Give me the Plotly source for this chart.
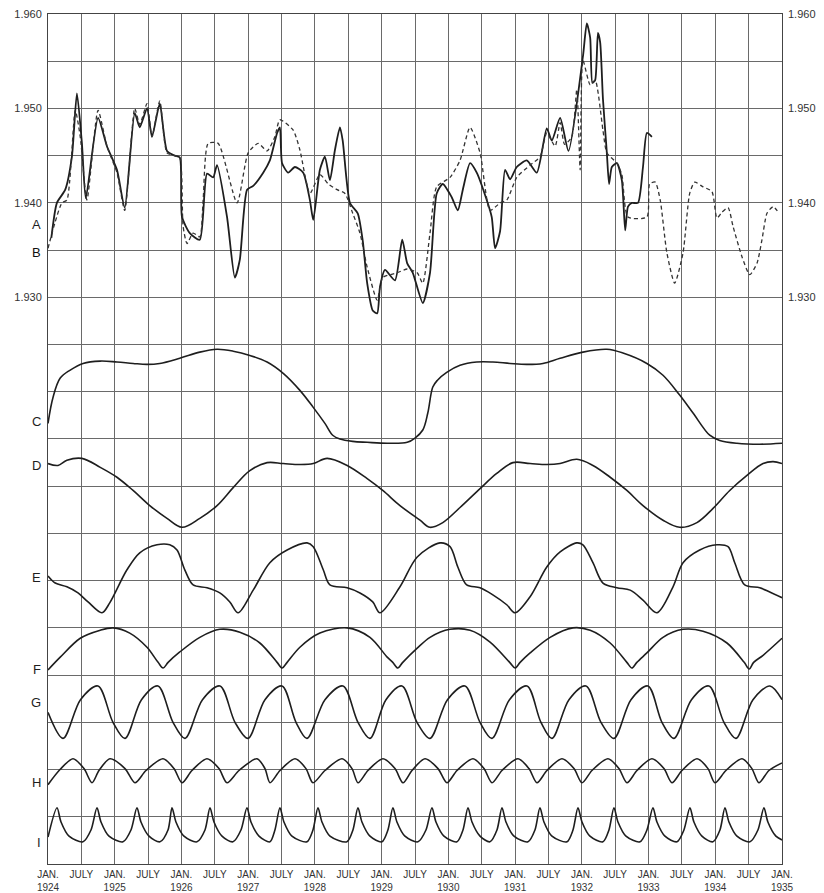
import plotly.graph_objects as go

# ---------------------------------------------------------------------------
# Data.  Time is counted in months from January 1924.
# ---------------------------------------------------------------------------

# Series A (full line) and B (broken line), plotted on the 1.930-1.960 scale
a_month = [0.6, 1.6, 3.1, 4.3, 5.2, 6.1, 6.8, 9.0, 10.6, 12.4, 13.8, 15.6, 16.5, 17.8,
           18.7, 20.1, 21.4, 22.8, 23.7, 24.1, 25.5, 27.3, 28.6, 29.7, 30.4, 32.2, 33.6,
           34.5, 35.8, 36.9, 38.7, 39.9, 41.2, 41.7, 42.1, 43.2, 44.4, 45.9, 47.1, 47.7,
           48.9, 49.8, 50.7, 51.6, 52.5, 53.0, 54.3, 55.7, 56.6, 57.4, 58.4, 59.2, 59.7,
           60.6, 62.4, 63.7, 64.6, 65.6, 67.4, 68.7, 69.9, 71.0, 72.6, 73.7, 74.6, 75.9,
           77.1, 78.9, 79.8, 80.4, 81.3, 82.2, 83.1, 84.3, 86.1, 87.9, 89.7, 90.6, 92.1,
           93.6, 96.2, 96.9, 97.5, 97.9, 98.4, 98.9, 99.3, 99.8, 100.5, 100.9, 101.4,
           102.3, 103.2, 103.8, 104.3, 105.0, 106.1, 107.0, 107.7, 108.6]
a_value = [1.9363, 1.9400, 1.9414, 1.9449, 1.9516, 1.9463, 1.9405, 1.9490, 1.9460, 1.9435,
           1.9395, 1.9495, 1.9480, 1.9500, 1.9470, 1.9505, 1.9455, 1.9450, 1.9448, 1.9385,
           1.9368, 1.9361, 1.9431, 1.9427, 1.9440, 1.9385, 1.9321, 1.9340, 1.9414, 1.9418,
           1.9432, 1.9445, 1.9474, 1.9480, 1.9442, 1.9432, 1.9438, 1.9432, 1.9403, 1.9382,
           1.9435, 1.9449, 1.9424, 1.9456, 1.9480, 1.9466, 1.9400, 1.9389, 1.9360, 1.9315,
           1.9286, 1.9283, 1.9311, 1.9329, 1.9318, 1.9361, 1.9336, 1.9326, 1.9294, 1.9326,
           1.9410, 1.9420, 1.9406, 1.9392, 1.9414, 1.9442, 1.9432, 1.9403, 1.9385, 1.9352,
           1.9370, 1.9435, 1.9425, 1.9438, 1.9445, 1.9432, 1.9479, 1.9466, 1.9490, 1.9455,
           1.9555, 1.9590, 1.9575, 1.9527, 1.9530, 1.9580, 1.9570, 1.9510, 1.9453, 1.9420,
           1.9438, 1.9442, 1.9424, 1.9371, 1.9396, 1.9400, 1.9400, 1.9438, 1.9474, 1.9470]

b_month = [0.0, 1.3, 2.5, 3.4, 4.9, 5.8, 7.0, 9.0, 10.6, 12.4, 13.8, 15.6, 16.5, 17.8,
           18.7, 20.1, 21.4, 22.8, 23.7, 24.3, 25.0, 26.1, 27.3, 27.9, 28.8, 30.6, 34.0,
           36.0, 37.8, 39.4, 40.8, 41.7, 44.1, 45.3, 47.1, 48.9, 50.4, 52.0, 53.4, 54.8,
           56.1, 57.4, 59.2, 60.2, 62.8, 64.6, 66.4, 67.4, 68.7, 69.9, 72.3, 74.1, 75.9,
           77.7, 79.5, 81.3, 82.5, 84.3, 86.7, 88.5, 89.7, 91.2, 92.1, 92.9, 94.2, 95.1,
           95.7, 96.2, 97.5, 98.4, 99.8, 100.5, 102.3, 103.2, 104.3, 107.7, 108.2, 109.2,
           110.1, 111.3, 112.7, 114.2, 115.4, 116.3, 117.8, 119.4, 120.3, 121.2, 122.3,
           123.2, 124.8, 126.2, 127.5, 128.4, 129.3, 130.4, 131.5]
b_value = [1.9352, 1.9380, 1.9400, 1.9403, 1.9498, 1.9470, 1.9403, 1.9498, 1.9460, 1.9432,
           1.9392, 1.9500, 1.9483, 1.9505, 1.9470, 1.9508, 1.9453, 1.9450, 1.9448, 1.9375,
           1.9357, 1.9368, 1.9364, 1.9403, 1.9463, 1.9463, 1.9400, 1.9453, 1.9463, 1.9455,
           1.9470, 1.9488, 1.9477, 1.9456, 1.9410, 1.9430, 1.9420, 1.9414, 1.9410, 1.9389,
           1.9368, 1.9332, 1.9297, 1.9321, 1.9326, 1.9330, 1.9326, 1.9315, 1.9368, 1.9417,
           1.9427, 1.9445, 1.9480, 1.9453, 1.9392, 1.9400, 1.9403, 1.9427, 1.9440, 1.9449,
           1.9474, 1.9460, 1.9485, 1.9462, 1.9470, 1.9520, 1.9435, 1.9551, 1.9525, 1.9530,
           1.9477, 1.9453, 1.9442, 1.9430, 1.9385, 1.9385, 1.9420, 1.9422, 1.9403, 1.9347,
           1.9315, 1.9347, 1.9410, 1.9422, 1.9417, 1.9412, 1.9384, 1.9390, 1.9395, 1.9375,
           1.9343, 1.9324, 1.9336, 1.9361, 1.9389, 1.9396, 1.9389]

# Component curves C-I, values in grid divisions above the floor gridline of each curve
c_month = [0.0, 0.9, 2.2, 4.0, 6.3, 9.4, 12.4, 15.3, 17.8, 20.1, 23.7, 27.3, 30.4, 33.3,
           36.3, 39.4, 42.3, 45.3, 47.7, 49.8, 51.2, 52.5, 54.8, 57.4, 61.0, 64.6, 66.0,
           67.4, 68.3, 69.2, 70.0, 71.7, 74.1, 77.1, 80.0, 83.1, 86.1, 89.0, 92.1, 96.2,
           100.5, 103.4, 107.7, 110.6, 113.6, 116.0, 119.0, 120.8, 123.9, 128.0, 132.0]
c_value = [1.33, 1.88, 2.29, 2.46, 2.60, 2.65, 2.63, 2.60, 2.58, 2.60, 2.71, 2.84, 2.90, 2.86,
           2.77, 2.63, 2.39, 2.03, 1.67, 1.33, 1.08, 1.00, 0.95, 0.93, 0.91, 0.93, 1.02,
           1.19, 1.55, 2.10, 2.24, 2.41, 2.56, 2.63, 2.63, 2.60, 2.58, 2.60, 2.71, 2.84,
           2.90, 2.82, 2.60, 2.35, 1.93, 1.55, 1.08, 0.97, 0.91, 0.89, 0.91]

d_month = [0.0, 1.8, 3.4, 6.1, 9.4, 12.4, 15.3, 18.3, 21.4, 24.1, 27.3, 30.4, 33.3, 36.3,
           39.4, 42.3, 45.3, 47.7, 50.2, 53.8, 57.4, 60.2, 63.3, 66.9, 68.7, 71.0, 74.1,
           77.7, 80.7, 83.6, 86.7, 89.7, 92.1, 95.1, 98.0, 101.1, 104.1, 107.0, 110.6,
           113.6, 116.7, 119.6, 122.6, 125.7, 128.6, 130.4, 132.0]
d_value = [1.48, 1.44, 1.55, 1.59, 1.40, 1.19, 0.91, 0.59, 0.32, 0.13, 0.32, 0.59, 0.97, 1.33,
           1.50, 1.48, 1.46, 1.48, 1.59, 1.44, 1.16, 0.91, 0.59, 0.28, 0.13, 0.23, 0.55,
           0.95, 1.27, 1.50, 1.48, 1.46, 1.48, 1.57, 1.44, 1.19, 0.91, 0.59, 0.28, 0.13,
           0.23, 0.53, 0.91, 1.23, 1.48, 1.52, 1.48]

e_month = [0.0, 1.3, 3.4, 5.4, 7.2, 9.7, 11.1, 14.2, 16.5, 19.6, 21.9, 23.2, 24.6, 26.1,
           28.6, 30.9, 32.7, 34.2, 36.9, 39.9, 43.0, 46.6, 47.7, 49.5, 50.7, 53.8, 56.1,
           58.4, 59.7, 63.3, 66.4, 70.5, 72.3, 73.7, 75.3, 77.7, 80.0, 82.5, 84.0, 86.7,
           89.7, 92.1, 95.1, 96.2, 98.0, 99.8, 102.3, 104.7, 107.0, 109.5, 112.4, 114.2,
           117.2, 120.3, 122.3, 123.5, 125.3, 128.0, 129.8, 132.0]
e_value = [1.10, 0.95, 0.87, 0.74, 0.55, 0.32, 0.53, 1.23, 1.59, 1.76, 1.76, 1.65, 1.23, 0.91,
           0.85, 0.74, 0.55, 0.32, 0.80, 1.38, 1.65, 1.80, 1.72, 1.23, 0.91, 0.85, 0.74,
           0.55, 0.32, 0.87, 1.50, 1.80, 1.72, 1.29, 0.91, 0.85, 0.70, 0.49, 0.32, 0.66,
           1.29, 1.61, 1.80, 1.76, 1.38, 0.95, 0.85, 0.80, 0.59, 0.32, 0.87, 1.38,
           1.65, 1.76, 1.72, 1.38, 0.91, 0.85, 0.76, 0.64]

f_month = [0.0, 2.2, 5.8, 9.4, 11.7, 14.7, 17.8, 19.8, 20.7, 21.6, 23.7, 27.3, 30.9, 34.5,
           38.1, 41.2, 42.1, 43.0, 45.3, 48.9, 53.8, 57.9, 61.0, 62.0, 62.9, 63.8, 66.4,
           68.7, 72.3, 75.9, 79.5, 83.1, 84.0, 84.9, 86.7, 90.3, 94.4, 97.5, 101.1, 104.1,
           105.0, 105.9, 107.7, 110.6, 114.2, 117.8, 122.1, 125.2, 126.1, 126.9, 128.6, 132.0]
f_value = [0.11, 0.38, 0.78, 0.95, 1.00, 0.89, 0.59, 0.27, 0.15, 0.27, 0.49, 0.80, 0.97, 0.91,
           0.68, 0.27, 0.15, 0.27, 0.59, 0.89, 1.00, 0.80, 0.38, 0.27, 0.15, 0.27, 0.57,
           0.80, 0.97, 0.95, 0.70, 0.26, 0.15, 0.27, 0.47, 0.80, 1.00, 0.95, 0.68, 0.27,
           0.15, 0.27, 0.47, 0.80, 0.97, 0.93, 0.68, 0.27, 0.13, 0.27, 0.42, 0.78]

g_month = [0.00, 2.70, 5.84, 8.99, 11.69, 13.85, 16.81, 19.78, 22.48, 24.64, 27.78, 30.93,
           33.63, 35.96, 39.02, 42.08, 44.60, 46.57, 49.81, 53.05, 55.75, 57.90, 60.78,
           63.66, 66.36, 68.69, 71.84, 74.99, 77.69, 79.84, 82.99, 86.14, 88.65, 90.63,
           93.69, 96.75, 99.44, 101.78, 104.84, 107.89, 110.41, 112.57, 115.72, 118.86,
           121.56, 123.72, 126.78, 129.83, 132.0]
g_value = [1.21, 0.66, 1.48, 1.77, 1.00, 0.66, 1.48, 1.77, 1.00, 0.66, 1.48, 1.77,
           1.00, 0.66, 1.48, 1.77, 1.00, 0.66, 1.48, 1.77, 1.00, 0.66, 1.48,
           1.77, 1.00, 0.66, 1.48, 1.77, 1.00, 0.66, 1.48, 1.77, 1.00, 0.66,
           1.48, 1.77, 1.00, 0.66, 1.48, 1.77, 1.00, 0.66, 1.48, 1.77,
           1.00, 0.66, 1.48, 1.77, 1.48]

h_month = [0.00, 2.16, 4.50, 6.47, 7.91, 9.17, 11.15, 13.85, 15.64, 17.62, 20.68, 22.66,
           24.10, 25.89, 28.59, 30.75, 32.19, 34.35, 37.58, 39.02, 39.92, 41.72, 44.42,
           46.39, 47.65, 49.81, 52.87, 54.67, 55.75, 57.54, 60.24, 62.40, 63.84, 65.46,
           67.80, 70.14, 71.75, 73.55, 76.43, 78.41, 79.85, 81.64, 84.52, 86.50, 87.93,
           89.73, 92.43, 94.59, 96.03, 97.82, 100.70, 102.68, 104.12, 105.92, 108.61,
           110.77, 112.21, 114.01, 116.71, 118.69, 119.94, 121.92, 124.80, 126.59, 127.85,
           129.65, 132.0]
h_value = [0.68, 1.00, 1.23, 1.02, 0.72, 0.98, 1.23, 1.02, 0.72, 0.98, 1.23, 1.02,
           0.72, 0.98, 1.23, 1.02, 0.72, 0.98, 1.23, 1.02, 0.72, 0.98, 1.23,
           1.02, 0.72, 0.98, 1.23, 1.02, 0.72, 0.98, 1.23, 1.02, 0.72, 0.98,
           1.23, 1.02, 0.72, 0.98, 1.23, 1.02, 0.72, 0.98, 1.23, 1.02, 0.72,
           0.98, 1.23, 1.02, 0.72, 0.98, 1.23, 1.02, 0.72, 0.98, 1.23,
           1.02, 0.72, 0.98, 1.23, 1.02, 0.72, 0.98, 1.23, 1.02, 0.72,
           0.98, 1.14]

i_month = [0.00, 1.62, 2.34, 3.78, 6.29, 7.73, 8.81, 9.53, 10.97, 13.49, 14.92, 16.00,
           16.72, 18.16, 20.14, 21.58, 22.30, 23.01, 24.45, 26.79, 28.23, 29.13, 29.85,
           31.29, 33.26, 34.70, 35.78, 36.50, 37.94, 39.92, 40.81, 41.71, 42.43, 43.87,
           46.57, 47.65, 48.55, 49.27, 50.71, 53.76, 54.84, 55.74, 56.46, 57.90, 60.05,
           61.13, 62.03, 62.75, 64.19, 66.53, 67.97, 69.05, 69.77, 71.21, 73.55, 74.63,
           75.53, 76.25, 77.69, 79.48, 80.74, 81.64, 82.36, 83.80, 86.32, 87.57, 88.47,
           89.19, 90.63, 93.33, 94.41, 95.31, 96.03, 97.46, 99.80, 100.88, 101.78, 102.50,
           103.94, 106.46, 107.71, 108.79, 109.51, 110.95, 113.11, 114.36, 115.44, 116.16,
           117.60, 119.58, 120.84, 121.74, 122.46, 123.90, 126.24, 127.67, 128.75, 129.46,
           130.90, 132.0]
i_value = [0.57, 1.19, 0.89, 0.59, 0.47, 0.72, 1.19, 0.89, 0.59, 0.47, 0.72, 1.19,
           0.89, 0.59, 0.47, 0.72, 1.19, 0.89, 0.59, 0.47, 0.72, 1.19, 0.89,
           0.59, 0.47, 0.72, 1.19, 0.89, 0.59, 0.47, 0.72, 1.19, 0.89, 0.59,
           0.47, 0.72, 1.19, 0.89, 0.59, 0.47, 0.72, 1.19, 0.89, 0.59, 0.47,
           0.72, 1.19, 0.89, 0.59, 0.47, 0.72, 1.19, 0.89, 0.59, 0.47, 0.72,
           1.19, 0.89, 0.59, 0.47, 0.72, 1.19, 0.89, 0.59, 0.47, 0.72, 1.19,
           0.89, 0.59, 0.47, 0.72, 1.19, 0.89, 0.59, 0.47, 0.72, 1.19, 0.89,
           0.59, 0.47, 0.72, 1.19, 0.89, 0.59, 0.47, 0.72, 1.19, 0.89,
           0.59, 0.47, 0.72, 1.19, 0.89, 0.59, 0.47, 0.72, 1.19, 0.89,
           0.59, 0.51]

# Axis labelling
first_year = 1924
last_year = 1935
jan_label = "JAN."
july_label = "JULY"
level_ticks = [1.930, 1.940, 1.950, 1.960]
level_labels = ["1.930", "1.940", "1.950", "1.960"]

# ---------------------------------------------------------------------------
# Figure
# ---------------------------------------------------------------------------
INK = "#1e1e1e"
GRID = "#6a6a6a"
FONT = "Liberation Sans, Arial, sans-serif"

SCALE_LO, SCALE_HI, SCALE_STEP = 1.870, 1.960, 0.005
N_DIV = round((SCALE_HI - SCALE_LO) / SCALE_STEP)   # 18 grid divisions
TOP_PANEL_FLOOR = 11                                  # 1.925 gridline


def to_year(months):
    return [first_year + m / 12.0 for m in months]


fig = go.Figure()

fig.add_trace(go.Scatter(
    x=to_year(a_month), y=a_value, mode="lines", yaxis="y",
    line=dict(color=INK, width=1.8, shape="spline", smoothing=0.6),
    hoverinfo="skip", showlegend=False))

fig.add_trace(go.Scatter(
    x=to_year(b_month), y=b_value, mode="lines", yaxis="y2",
    line=dict(color="#333333", width=1.3, dash="4px,3px", shape="spline", smoothing=0.6),
    hoverinfo="skip", showlegend=False))

# Each component gets its own strip of the common grid (edges in grid divisions,
# counted from the bottom); 'floor' is the gridline its values are measured from.
# (letter, months, values, floor, strip bottom, strip top, smoothing, label shift)
components = [
    ("C", c_month, c_value, 8, 8.74, 11.00, 1.0, 2),
    ("D", d_month, d_value, 7, 6.97, 8.74, 1.0, -2),
    ("E", e_month, e_value, 5, 5.17, 6.97, 0.9, -2),
    ("F", f_month, f_value, 4, 3.96, 5.17, 0.9, 0),
    ("G", g_month, g_value, 2, 2.44, 3.96, 0.9, 10),
    ("H", h_month, h_value, 1, 1.44, 2.44, 0.8, 2),
    ("I", i_month, i_value, 0, 0.00, 1.44, 0.8, -5),
]

layout_axes = {}
annotations = []
for idx, (letter, months, vals, floor, lo, hi, smooth, shift) in enumerate(components):
    n = idx + 3
    fig.add_trace(go.Scatter(
        x=to_year(months), y=vals, mode="lines", yaxis=f"y{n}",
        line=dict(color=INK, width=1.6, shape="spline", smoothing=smooth),
        hoverinfo="skip", showlegend=False))
    lo_rel, hi_rel = lo - floor, hi - floor
    # gridlines of this strip (the strip's top edge of C belongs to the upper panel)
    strip_grid = [k for k in range(-1, 5)
                  if lo_rel <= k <= hi_rel and 0 < k + floor < TOP_PANEL_FLOOR]
    layout_axes[f"yaxis{n}"] = dict(
        domain=[lo / N_DIV, hi / N_DIV], range=[lo_rel, hi_rel],
        anchor="x", fixedrange=True,
        tickmode="array", tickvals=strip_grid, showticklabels=False,
        showgrid=True, gridcolor=GRID, gridwidth=1,
        showline=False, ticks="", zeroline=False)
    annotations.append(dict(
        text=letter, xref="paper", x=0, xanchor="right", xshift=-5,
        yref=f"y{n}", y=vals[0], yanchor="middle", yshift=shift,
        showarrow=False, font=dict(family=FONT, size=13, color=INK)))

annotations.append(dict(
    text="A", xref="paper", x=0, xanchor="right", xshift=-5,
    yref="y", y=a_value[0], yanchor="middle", yshift=13,
    showarrow=False, font=dict(family=FONT, size=13, color=INK)))
annotations.append(dict(
    text="B", xref="paper", x=0, xanchor="right", xshift=-5,
    yref="y2", y=b_value[0], yanchor="middle", yshift=-4,
    showarrow=False, font=dict(family=FONT, size=13, color="#111111")))

# Tick positions
x_tickvals, x_ticktext = [], []
for yr in range(first_year, last_year):
    x_tickvals += [yr, yr + 0.5]
    x_ticktext += [f"{jan_label}<br>{yr}", july_label]
x_tickvals.append(last_year)
x_ticktext.append(f"{jan_label}<br>{last_year}")

# Upper-panel gridlines: 1.925 ... 1.960
grid_vals = [round(SCALE_LO + SCALE_STEP * k, 3) for k in range(TOP_PANEL_FLOOR, N_DIV + 1)]
grid_text = []
for v in grid_vals:
    match = [lab for t, lab in zip(level_ticks, level_labels) if abs(t - v) < 1e-9]
    grid_text.append(match[0] if match else "")

fig.update_layout(
    width=824, height=893,
    margin=dict(l=48, r=42, t=14, b=29, autoexpand=False),
    paper_bgcolor="white", plot_bgcolor="rgba(0,0,0,0)",
    font=dict(family=FONT, color="#2a2a2a"),
    showlegend=False,
    xaxis=dict(
        range=[first_year, last_year], tickmode="array",
        tickvals=x_tickvals, ticktext=x_ticktext,
        tickfont=dict(size=10, color="#333333"),
        showgrid=True, gridcolor=GRID, gridwidth=1,
        showline=True, linecolor="#444444", linewidth=1, mirror=True,
        ticks="", zeroline=False, fixedrange=True, ticklabelstandoff=1),
    yaxis=dict(
        domain=[0, 1], range=[SCALE_LO, SCALE_HI], tickmode="array",
        tickvals=grid_vals, ticktext=grid_text,
        tickfont=dict(size=11, color="#333333"),
        showgrid=True, gridcolor=GRID, gridwidth=1,
        showline=True, linecolor="#444444", linewidth=1, mirror=True,
        ticks="", zeroline=False, fixedrange=True, ticklabelstandoff=3),
    yaxis2=dict(
        overlaying="y", side="right", anchor="x",
        range=[SCALE_LO, SCALE_HI], tickmode="array",
        tickvals=level_ticks, ticktext=level_labels,
        tickfont=dict(size=11, color="#333333"),
        showgrid=False, showline=False, ticks="", zeroline=False,
        fixedrange=True, ticklabelstandoff=5),
    annotations=annotations,
    **layout_axes,
)

fig.write_html("out.html")
